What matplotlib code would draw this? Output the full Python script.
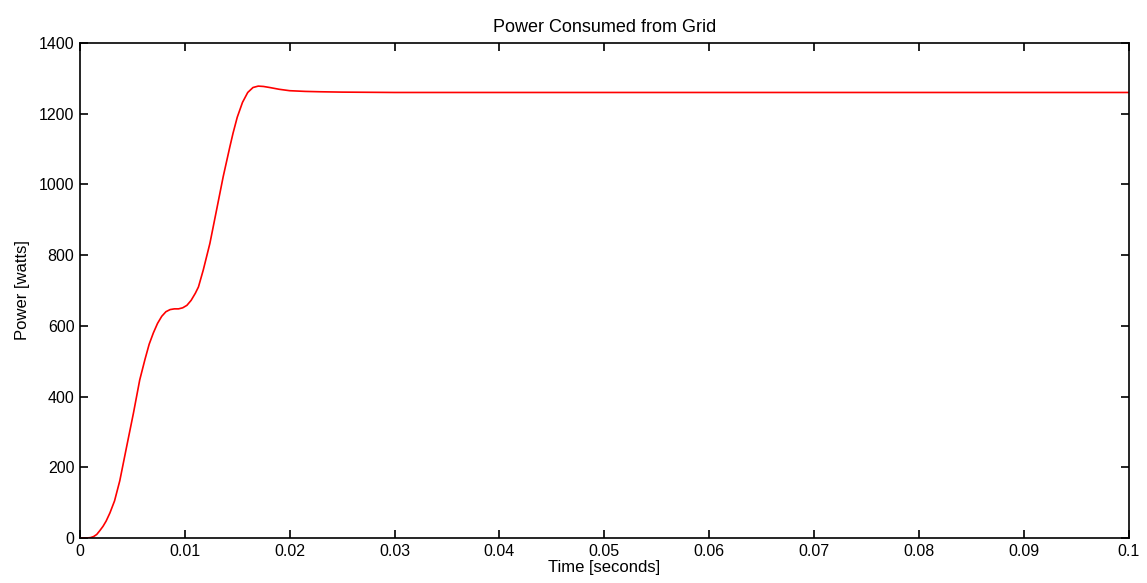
import matplotlib
matplotlib.use("Agg")
import matplotlib.pyplot as plt

# values
time_s = [0, 0.0006, 0.0010, 0.0013, 0.0016, 0.0019, 0.0022, 0.0025, 0.00286,
          0.0033, 0.0038, 0.00445, 0.0051, 0.0057, 0.0062, 0.0066, 0.0070,
          0.0074, 0.0078, 0.0082, 0.0086, 0.0090, 0.0094, 0.0098, 0.0102,
          0.0106, 0.0110, 0.0113, 0.01176, 0.01239, 0.01303, 0.01366, 0.0143,
          0.0146, 0.0150, 0.0155, 0.0160, 0.0165, 0.0170, 0.0175, 0.0181,
          0.0190, 0.0200, 0.0215, 0.0229, 0.025, 0.03, 0.1]
power_w = [0, 0, 1, 4, 10, 21, 33, 48, 71,
           105, 162, 258, 353, 447, 505, 548, 580,
           607, 627, 640, 646, 648, 648, 651, 658,
           672, 692, 710, 758, 833, 928, 1022, 1107,
           1145, 1190, 1232, 1260, 1274, 1278, 1277, 1274,
           1269, 1265, 1263, 1262, 1261, 1260, 1260]

xticks = [0, 0.01, 0.02, 0.03, 0.04, 0.05, 0.06, 0.07, 0.08, 0.09, 0.1]
xtick_labels = ["0", "0.01", "0.02", "0.03", "0.04", "0.05", "0.06", "0.07", "0.08", "0.09", "0.1"]
yticks = [0, 200, 400, 600, 800, 1000, 1200, 1400]

plt.rcParams['font.family'] = ['Liberation Sans', 'DejaVu Sans']

fig = plt.figure(figsize=(11.47, 5.83), dpi=100)
ax = fig.add_axes([0.0697, 0.0772, 0.9143, 0.8491])
ax.plot(time_s, power_w, color='red', linewidth=1.2)

ax.set_xlim(0, 0.1)
ax.set_ylim(0, 1400)
ax.set_xticks(xticks)
ax.set_xticklabels(xtick_labels)
ax.set_yticks(yticks)
ax.tick_params(direction='in', length=6, width=1.2, top=True, right=True,
               labelsize=11.5, pad=4)
for s in ax.spines.values():
    s.set_linewidth(1.2)

ax.set_title("Power Consumed from Grid", fontsize=13, pad=8)
ax.set_xlabel("Time [seconds]", fontsize=12, labelpad=1)
ax.set_ylabel("Power [watts]", fontsize=12, labelpad=6)

fig.savefig("out.png", dpi=100)
